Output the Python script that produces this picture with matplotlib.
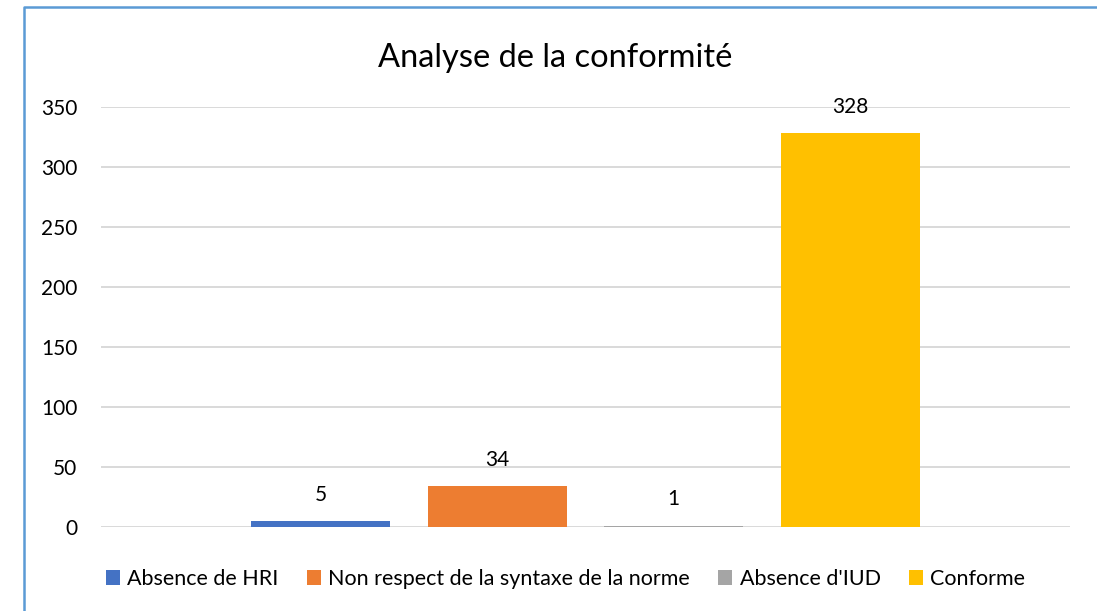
import matplotlib
matplotlib.use("Agg")
import matplotlib.pyplot as plt
from matplotlib.patches import Patch
from matplotlib.lines import Line2D

plt.rcParams['font.family'] = ['Lato', 'DejaVu Sans']

series = ["Absence de HRI", "Non respect de la syntaxe de la norme",
          "Absence d'IUD", "Conforme"]
values = [5, 34, 1, 328]
colors = ["#4472C4", "#ED7D31", "#A5A5A5", "#FFC000"]
yticks = [0, 50, 100, 150, 200, 250, 300, 350]
title = "Analyse de la conformité"

W, H = 1097, 611
fig = plt.figure(figsize=(W / 100, H / 100), dpi=100)
ax = fig.add_axes([101 / W, 1 - 527 / H, (1070 - 101) / W, (527 - 107) / H])

# one category, four series side by side
step = 0.1822
width = 0.1434
for i, (name, v, c) in enumerate(zip(series, values, colors)):
    x = 0.5 + (i - 1.5) * step
    ax.bar(x, v, width=width, color=c, label=name, zorder=2)
    ax.annotate(str(v), (x, v), xytext=(0, 19), textcoords='offset points',
                ha='center', va='center', fontsize=15, color='black')

ax.set_xlim(0, 1)
ax.set_ylim(0, 350)
ax.set_yticks(yticks)
ax.set_xticks([])
ax.tick_params(axis='y', length=0, pad=17, labelsize=15, labelcolor='black')
ax.yaxis.grid(True, color='#D9D9D9', linewidth=1.4, zorder=0)
ax.set_axisbelow(True)
for s in ax.spines.values():
    s.set_visible(False)

fig.text(0.506, 1 - 67 / H, title, ha='center', va='baseline',
         fontsize=23.5, color='black')

handles = [Patch(facecolor=c, edgecolor='none') for c in colors]
fig.legend(handles, series, loc='center', bbox_to_anchor=(0.5155, 1 - 579 / H),
           ncol=4, frameon=False, fontsize=15.5, handlelength=0.65,
           handleheight=0.65, handletextpad=0.35, columnspacing=1.3,
           borderpad=0)

# chart area border (only top and left edges show in the crop)
bx = 24 / W
by = 1 - 7 / H
fig.add_artist(Line2D([bx, bx, 1], [0, by, by], transform=fig.transFigure,
                      color='#5B9BD5', linewidth=1.8))

fig.savefig("out.png", dpi=100)
